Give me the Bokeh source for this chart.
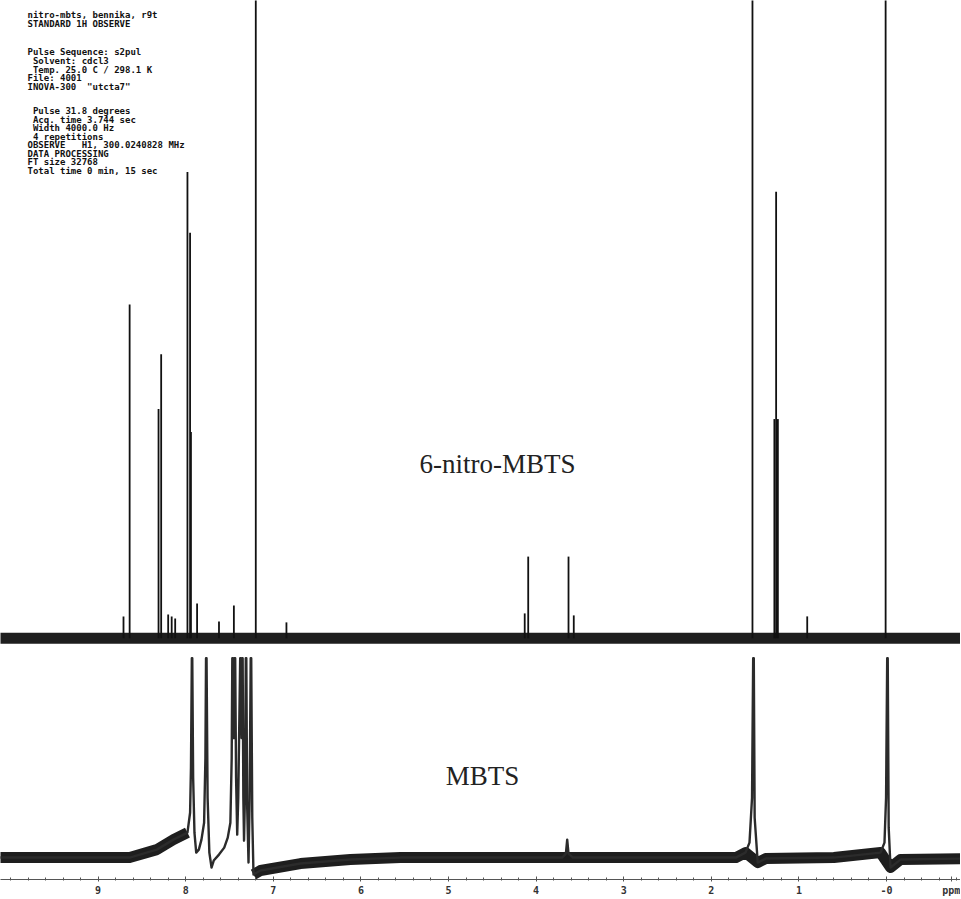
from bokeh.plotting import figure
from bokeh.models import Range1d, FixedTicker, ColumnDataSource
from bokeh.embed import file_html
from bokeh.resources import INLINE
from bokeh.core.properties import value

# ---------------- data ----------------
# 6-nitro-MBTS: peak positions (ppm) and peak intensities above its baseline (a.u.)
nitro_peak_ppm = [8.71, 8.64, 8.31, 8.28, 8.20, 8.16, 8.12, 7.98, 7.95, 7.94,
                  7.87, 7.62, 7.45, 7.20, 6.85, 4.13, 4.09, 3.63, 3.57,
                  1.53, 1.28, 1.26, 1.24, 0.905, 0.01]
nitro_peak_int = [22, 335, 230, 285, 24, 22, 20, 468, 407, 207,
                  35, 17, 33, 900, 16, 25, 82, 82, 23,
                  900, 220, 448, 220, 22, 900]
nitro_base_ppm = [10.2, -0.9]
nitro_base_int = [0, 0]

# MBTS: trace (ppm, intensity above its baseline; tops are cut off at 200 in the plot)
mbts_ppm = [10.2, 8.64, 8.33, 8.14, 7.98, 7.95, 7.94, 7.93, 7.925, 7.915, 7.90, 7.88,
            7.85, 7.82, 7.79, 7.775, 7.768, 7.762, 7.75, 7.73, 7.705, 7.68, 7.62,
            7.56, 7.52, 7.49, 7.475, 7.468, 7.46, 7.452, 7.445, 7.435, 7.425, 7.412,
            7.40, 7.378, 7.37, 7.362, 7.357, 7.35, 7.342, 7.334, 7.322, 7.314, 7.308,
            7.298, 7.283, 7.27, 7.258, 7.252, 7.24, 7.226, 7.146, 6.69, 6.12, 5.55,
            4.98, 3.70, 3.66, 3.645, 3.63, 3.58, 1.72, 1.61, 1.564, 1.535, 1.522,
            1.515, 1.505, 1.47, 1.38, 0.60, 0.068, 0.023, 0.005, -0.008, -0.014,
            -0.025, -0.046, -0.16, -0.9]
mbts_int = [0, 0, 8, 18, 25, 45, 90, 200, 200, 80, 25, 5,
            8, 18, 35, 100, 200, 200, 60, 5, -10, -3, 3,
            10, 20, 35, 100, 200, 200, 120, 200, 200, 80, 23,
            60, 200, 200, 120, 200, 200, 60, 17, 70, 200, 200,
            50, -5, 60, 200, 200, 40, -17, -13, -6, -2, 0,
            0, 0, 4, 18, 4, 0, 0, 5, 15, 60, 200,
            200, 40, -5, -1, 0, 5, 15, 60, 200, 200,
            30, -10, -2, -1]
# MBTS noise band, in two pieces (left of and right of the aromatic cluster)
mbts_band_ppm = [[10.2, 8.64, 8.33, 8.14, 7.98],
                 [7.226, 7.146, 6.69, 6.12, 5.55, 4.98, 1.72, 1.61, 1.47, 1.38,
                  0.60, 0.068, -0.046, -0.16, -0.9]]
mbts_band_int = [[0, 0, 8, 18, 25],
                 [-17, -13, -6, -2, 0, 0, 0, 5, -5, -1,
                  0, 5, -10, -2, -1]]

major_ticks = [9, 8, 7, 6, 5, 4, 3, 2, 1, 0, -0.74]
major_labels = ["9", "8", "7", "6", "5", "4", "3", "2", "1", "-0", "ppm"]
minor_ticks = [round(-0.8 + 0.2 * i, 1) for i in range(55)]

NB = "\u00a0"
header_lines = [
    "nitro-mbts, bennika, r9t",
    "STANDARD 1H OBSERVE",
    "Pulse Sequence: s2pul",
    NB + "Solvent: cdcl3",
    NB + "Temp. 25.0 C / 298.1 K",
    "File: 4001",
    "INOVA-300" + NB + NB + "\"utcta7\"",
    NB + "Pulse 31.8 degrees",
    NB + "Acq. time 3.744 sec",
    NB + "Width 4000.0 Hz",
    NB + "4 repetitions",
    "OBSERVE" + NB * 3 + "H1, 300.0240828 MHz",
    "DATA PROCESSING",
    "FT size 32768",
    "Total time 0 min, 15 sec",
]
header_y = [15, 24, 52, 61, 70, 78, 87, 111, 120, 128, 137, 145, 154, 162, 171]

# ---------------- layout helpers ----------------
W, H = 960, 898
PX_PER_PPM = 87.6
X0_REF = 886.0          # pixel column of 0 ppm
AXIS_Y = 882.0          # pixel row of the axis line


def rx(xr):
    return (X0_REF - xr) / PX_PER_PPM


def ry(yr):
    return AXIS_Y - yr


NITRO_OFF = ry(640)
MBTS_OFF = ry(860)

p = figure(width=W, height=H, output_backend="svg", toolbar_location=None,
           x_range=Range1d(rx(0), rx(W)), y_range=Range1d(0, AXIS_Y),
           y_axis_location=None, min_border_left=0, min_border_right=0,
           min_border_top=0, min_border_bottom=H - int(AXIS_Y))
p.outline_line_color = None
p.grid.visible = False
p.background_fill_color = "white"
p.border_fill_color = "white"

ax = p.xaxis[0]
ax.ticker = FixedTicker(ticks=major_ticks, minor_ticks=minor_ticks)
ax.major_label_overrides = {t: l for t, l in zip(major_ticks, major_labels)}
ax.axis_line_color = "#555555"
ax.major_tick_line_color = "#555555"
ax.minor_tick_line_color = "#555555"
ax.major_tick_in = 3
ax.major_tick_out = 2
ax.minor_tick_in = 2
ax.minor_tick_out = 1
ax.major_label_standoff = 3
ax.major_label_text_font = "DejaVu Sans Mono"
ax.major_label_text_font_style = "bold"
ax.major_label_text_font_size = "10px"
ax.major_label_text_color = "#333333"

# baselines (noise bands)
p.line(nitro_base_ppm, [NITRO_OFF + v for v in nitro_base_int],
       line_width=11, color="#1e1e1e")
p.multi_line([list(xs) for xs in mbts_band_ppm],
             [[MBTS_OFF + v for v in ys] for ys in mbts_band_int],
             line_width=11, color="#1e1e1e", line_join="round")

# 6-nitro-MBTS peaks
src_n = ColumnDataSource(dict(
    x=nitro_peak_ppm,
    y0=[NITRO_OFF] * len(nitro_peak_ppm),
    y1=[NITRO_OFF + v for v in nitro_peak_int]))
p.segment(x0="x", y0="y0", x1="x", y1="y1", source=src_n,
          line_width=1.8, color="#111111")

# MBTS trace
p.line(mbts_ppm, [MBTS_OFF + v for v in mbts_int], line_width=2.4,
       color="#2b2b2b", line_join="round")

# labels
p.text(x=[rx(497)], y=[ry(465)], text=["6-nitro-MBTS"],
       text_font=value("Liberation Serif"), text_font_size="27px",
       text_align="center", text_baseline="middle", text_color="#222222")
p.text(x=[rx(482)], y=[ry(778)], text=["MBTS"],
       text_font=value("Liberation Serif"), text_font_size="27px",
       text_align="center", text_baseline="middle", text_color="#222222")

p.text(x=[rx(27)] * len(header_lines), y=[ry(v) for v in header_y],
       text=header_lines, text_font=value("DejaVu Sans Mono"),
       text_font_style="bold", text_font_size="9px", text_align="left",
       text_baseline="middle", text_color="#111111")

open("out.html", "w").write(file_html(p, INLINE))
